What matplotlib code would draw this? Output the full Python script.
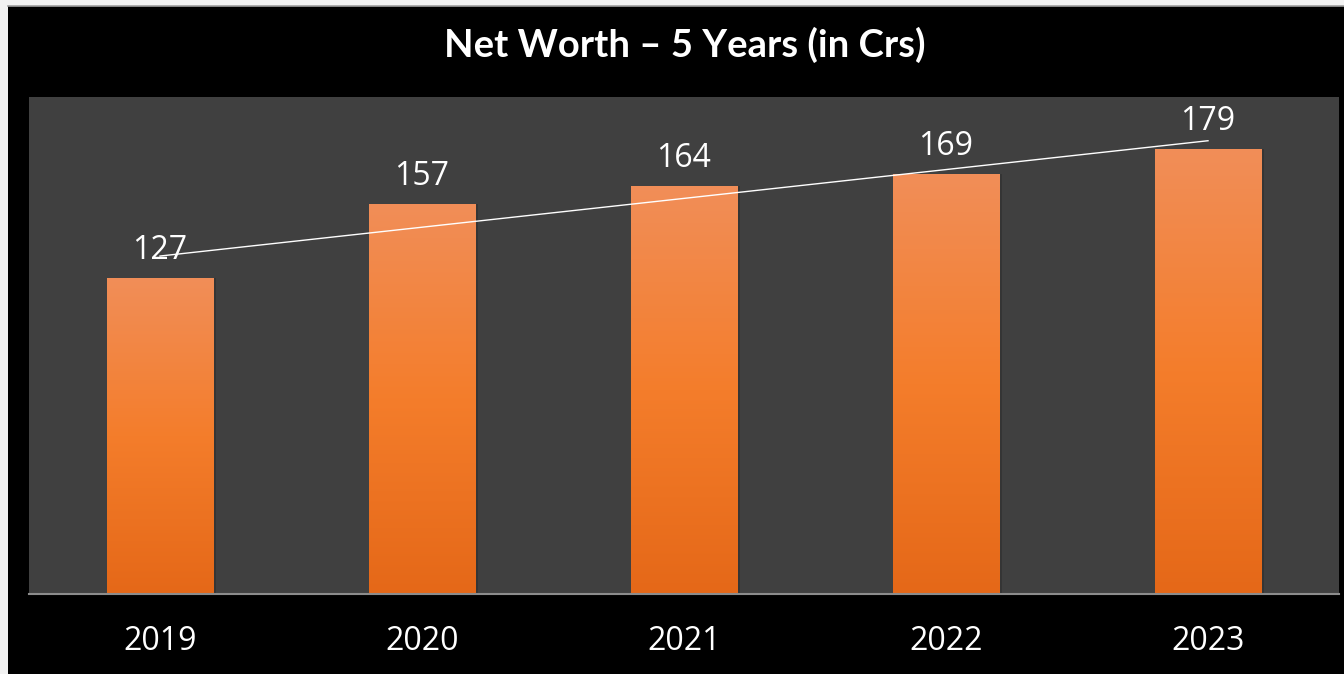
import numpy as np
import matplotlib
matplotlib.use("Agg")
import matplotlib.pyplot as plt
import matplotlib.patches as patches
from matplotlib.colors import LinearSegmentedColormap

years = ["2019", "2020", "2021", "2022", "2023"]
net_worth = [127, 157, 164, 169, 179]
title = "Net Worth \u2013 5 Years (in Crs)"

plt.rcParams['font.family'] = ['Open Sans', 'DejaVu Sans']

W, H = 1344, 674
fig = plt.figure(figsize=(W / 100, H / 100), dpi=100, facecolor="#f2f2f2")

# black slide panel with thin grey top border
fig.patches.append(patches.Rectangle((8 / W, 0), 1, (H - 6) / H, transform=fig.transFigure,
                                     facecolor="black", edgecolor="none", zorder=-5))
fig.lines.append(plt.Line2D([8 / W, 1], [(H - 6) / H] * 2, transform=fig.transFigure,
                            color="#a0a0a0", lw=1.2, zorder=-4))

ax = fig.add_axes([29 / W, (H - 594) / H, (1339 - 29) / W, (594 - 97) / H])
ax.set_zorder(2)
ax.set_facecolor("#404040")
x = np.arange(len(years))
ax.set_xlim(-0.5, len(years) - 0.5)
ax.set_ylim(0, 200)

cmap = LinearSegmentedColormap.from_list("bar", ["#e56818", "#f47d2b", "#f18e58"])
grad = np.linspace(0, 1, 256).reshape(-1, 1)
bars = ax.bar(x, net_worth, width=0.405, color="none", edgecolor="none", zorder=2)
for b in bars:
    x0, y0, w, h = b.get_x(), b.get_y(), b.get_width(), b.get_height()
    # soft shadow on the right edge
    ax.add_patch(patches.Rectangle((x0 + w, 0), 0.012, h, facecolor="#353535",
                                   edgecolor="none", zorder=1.5))
    im = ax.imshow(grad, extent=(x0, x0 + w, 0, h), origin="lower", cmap=cmap,
                   aspect="auto", zorder=2)
    im.set_clip_path(b)

for xi, v in zip(x, net_worth):
    ax.annotate(str(v), (xi, v), xytext=(0, 8), textcoords="offset points",
                ha="center", va="bottom", color="white", fontsize=23, zorder=4)

# linear trendline
k, c = np.polyfit(x, net_worth, 1)
ax.plot(x[[0, -1]], k * x[[0, -1]] + c, color="white", lw=1.0, zorder=3)

ax.set_xticks(x)
ax.set_xticklabels(years, color="white", fontsize=23)
ax.tick_params(axis="x", length=0, pad=22)
ax.set_yticks([])
for s in ["top", "right", "left"]:
    ax.spines[s].set_visible(False)
ax.spines["bottom"].set_color("#8c8c8c")
ax.spines["bottom"].set_linewidth(1.5)

fig.text(685 / W, (H - 45) / H, title, color="white", fontsize=27.5, fontweight="bold",
         family=["Lato", "DejaVu Sans"], ha="center", va="center")

fig.savefig("out.png", dpi=100, facecolor=fig.get_facecolor())
